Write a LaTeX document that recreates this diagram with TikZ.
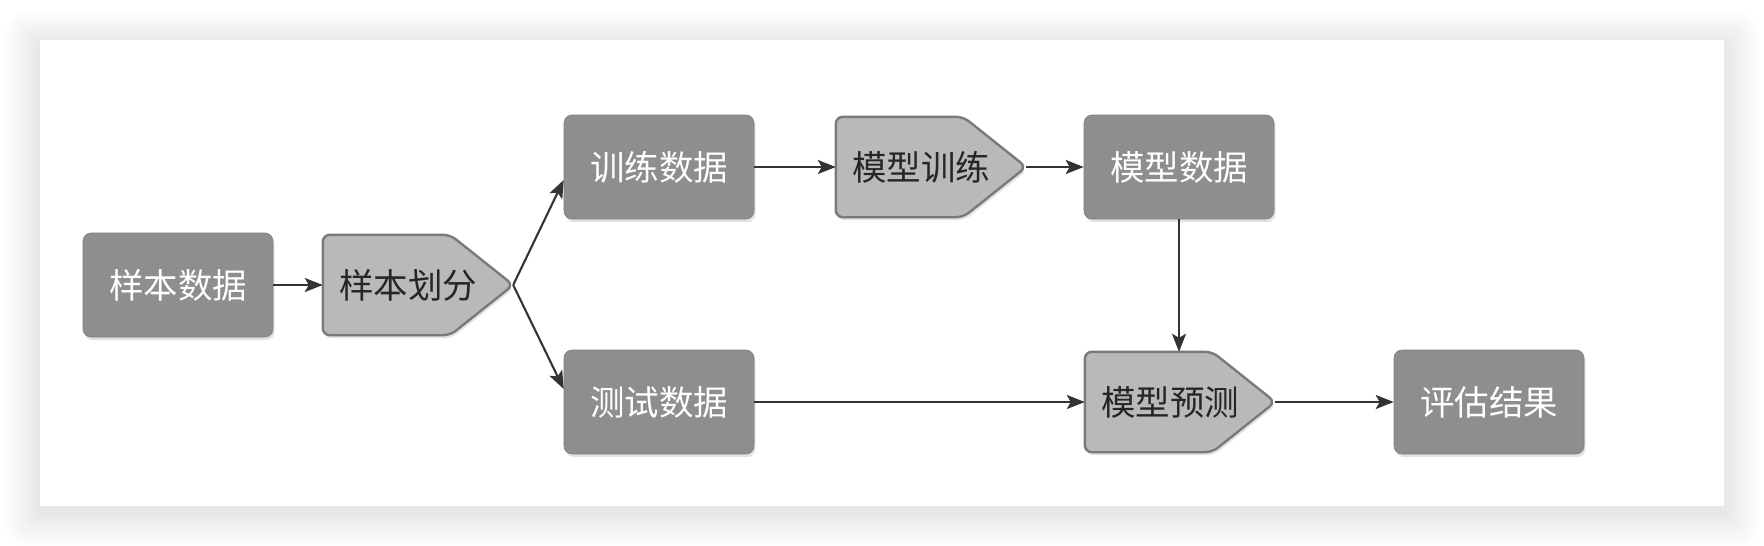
\documentclass[tikz,border=0pt]{standalone}
\usepackage{fontspec}
\newfontfamily\cjk{Noto Sans CJK SC}
\usetikzlibrary{arrows.meta,shadows,calc}
\definecolor{darkbox}{HTML}{8F8D8F}
\definecolor{lightbox}{HTML}{B9B9B9}
\definecolor{lightborder}{HTML}{7A7A7A}
\definecolor{arrowc}{HTML}{333333}
\tikzset{
  boxfont/.style={font=\cjk\fontsize{34.5}{40}\selectfont},
  databox/.style={rectangle, rounded corners=8pt, fill=darkbox, draw=darkbox!90!black, line width=0.6pt,
    minimum width=190pt, minimum height=104pt, inner sep=0pt, text=white, boxfont,
    drop shadow={shadow xshift=1.5pt, shadow yshift=-3pt, opacity=0.22}},
  procarea/.style={rectangle, minimum width=190pt, minimum height=100pt, inner sep=0pt,
    text=black!85, boxfont},
  procshape/.style={fill=lightbox, draw=lightborder, line width=2.4pt, rounded corners=7pt,
    drop shadow={shadow xshift=1.5pt, shadow yshift=-3pt, opacity=0.22}},
  conn/.style={draw=arrowc, line width=2.1pt, -{Stealth[length=18pt, width=14pt, inset=4pt]}}
}
\newcommand\drawproc[1]{%
  \path[procshape] (#1.north west) -- ($(#1.north east)+(-63,0)$) -- (#1.east)
    -- ($(#1.south east)+(-63,0)$) -- (#1.south west) -- cycle;}
\begin{document}
\begin{tikzpicture}[x=1pt, y=-1pt]
\useasboundingbox (0,0) rectangle (1764,546);
\fill[white] (0,0) rectangle (1764,546);
% panel shadow
\foreach \i in {1,...,24}{
  \fill[black, opacity=0.004, rounded corners=\i pt] ($(40,46)+(-\i*1.5,-\i*1.5)$) rectangle ($(1724,512)+(\i*1.5,\i*1.5)$);
}
\fill[white] (40,40) rectangle (1724,506);

% process shapes (drawn first, text on top)
\path (418,285) coordinate (hfc) (931,167) coordinate (mxc) (1180,402) coordinate (ycc);
\node[procarea] (hf0) at (hfc) {};
\node[procarea] (mx0) at (mxc) {};
\node[procarea] (yc0) at (ycc) {};
\drawproc{hf0}
\drawproc{mx0}
\drawproc{yc0}
\node[procarea] (hf) at (hfc) {\hspace*{-20pt}样本划分};
\node[procarea] (mx) at (mxc) {\hspace*{-20pt}模型训练};
\node[procarea] (yc) at (ycc) {\hspace*{-20pt}模型预测};

\node[databox] (sd) at (178,285) {样本数据};
\node[databox] (xl) at (659,167) {训练数据};
\node[databox] (cs) at (659,402) {测试数据};
\node[databox] (ms) at (1179,167) {模型数据};
\node[databox] (pg) at (1489,402) {评估结果};

\draw[conn] (sd.east) -- (hf.west);
\draw[conn] (hf.east) -- ($(xl.west)+(0,13)$);
\draw[conn] (hf.east) -- ($(cs.west)+(0,-13)$);
\draw[conn] (xl.east) -- (mx.west);
\draw[conn] (mx.east) -- (ms.west);
\draw[conn] (ms.south) -- (ms.south |- yc.north);
\draw[conn] (cs.east) -- (cs.east -| yc.west);
\draw[conn] (yc.east) -- (pg.west);
\end{tikzpicture}
\end{document}
